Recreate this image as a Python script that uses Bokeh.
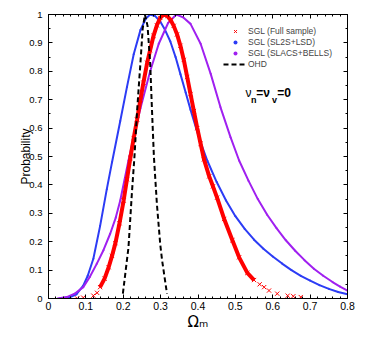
from bokeh.plotting import figure
from bokeh.models import (Legend, LegendItem, LinearAxis, Label, FixedTicker,
                          Range1d, CustomJSTickFormatter)
from bokeh.embed import file_html
from bokeh.resources import INLINE

# ---- data ----
full_x = [0.077, 0.093, 0.120, 0.130, 0.138, 0.150, 0.161, 0.170, 0.179, 0.190, 0.201,
          0.210, 0.219, 0.228, 0.237, 0.246, 0.254, 0.264, 0.272, 0.281, 0.290, 0.299,
          0.308, 0.318, 0.327, 0.335, 0.344, 0.353, 0.362, 0.371, 0.380, 0.389, 0.398,
          0.407, 0.416, 0.430, 0.440, 0.451, 0.470, 0.492, 0.510, 0.532, 0.550, 0.565,
          0.577, 0.590, 0.612, 0.640, 0.655, 0.675]
full_y = [0.000, 0.003, 0.010, 0.020, 0.040, 0.070, 0.110, 0.150, 0.195, 0.265, 0.345,
          0.420, 0.495, 0.565, 0.630, 0.700, 0.760, 0.830, 0.875, 0.925, 0.962, 0.988,
          1.000, 0.995, 0.980, 0.960, 0.930, 0.890, 0.840, 0.780, 0.720, 0.660, 0.600,
          0.545, 0.490, 0.430, 0.395, 0.355, 0.280, 0.205, 0.145, 0.090, 0.065, 0.050,
          0.040, 0.028, 0.017, 0.010, 0.008, 0.005]

sl2s_x = [0.030, 0.058, 0.075, 0.093, 0.105, 0.120, 0.138, 0.156, 0.170, 0.192, 0.210,
          0.228, 0.246, 0.260, 0.272, 0.285, 0.299, 0.312, 0.326, 0.340, 0.353, 0.367,
          0.380, 0.395, 0.407, 0.425, 0.450, 0.475, 0.500, 0.525, 0.550, 0.575, 0.600,
          0.625, 0.650, 0.675, 0.700, 0.725, 0.750, 0.775, 0.800]
sl2s_y = [0.000, 0.005, 0.015, 0.045, 0.080, 0.140, 0.255, 0.385, 0.480, 0.625, 0.745,
          0.860, 0.945, 0.985, 1.000, 0.995, 0.975, 0.945, 0.905, 0.850, 0.790, 0.725,
          0.665, 0.600, 0.550, 0.485, 0.410, 0.345, 0.290, 0.245, 0.207, 0.175, 0.148,
          0.123, 0.100, 0.080, 0.063, 0.047, 0.034, 0.023, 0.015]

slacs_x = [0.025, 0.049, 0.070, 0.093, 0.110, 0.129, 0.147, 0.165, 0.180, 0.192, 0.214,
           0.230, 0.246, 0.272, 0.295, 0.320, 0.342, 0.360, 0.380, 0.407, 0.434, 0.460,
           0.487, 0.510, 0.535, 0.560, 0.585, 0.610, 0.635, 0.660, 0.685, 0.710, 0.735,
           0.760, 0.780, 0.800]
slacs_y = [0.000, 0.005, 0.017, 0.040, 0.075, 0.122, 0.170, 0.228, 0.285, 0.345, 0.486,
           0.580, 0.670, 0.800, 0.897, 0.970, 1.000, 0.990, 0.967, 0.897, 0.791, 0.674,
           0.568, 0.486, 0.415, 0.350, 0.295, 0.248, 0.205, 0.168, 0.135, 0.105, 0.080,
           0.058, 0.042, 0.028]

ohd_x = [0.199, 0.214, 0.223, 0.230, 0.237, 0.246, 0.252, 0.258, 0.265, 0.272, 0.277,
         0.282, 0.290, 0.299, 0.304, 0.317]
ohd_y = [0.017, 0.180, 0.369, 0.500, 0.660, 0.830, 0.950, 1.000, 0.960, 0.830, 0.660,
         0.500, 0.333, 0.190, 0.134, 0.017]

x_ticks = [0, 0.1, 0.2, 0.3, 0.4, 0.5, 0.6, 0.7, 0.8]
y_ticks = [0, 0.1, 0.2, 0.3, 0.4, 0.5, 0.6, 0.7, 0.8, 0.9, 1.0]
x_minor = [i * 0.02 for i in range(41)]
y_minor = [i * 0.05 for i in range(21)]

RED = "#ff0000"
BLUE = "#2c3cf5"
PURPLE = "#a020f0"
FONT = "Liberation Sans"

p = figure(width=372, height=338, output_backend="svg", toolbar_location=None,
           x_range=Range1d(0, 0.8), y_range=Range1d(0, 1),
           min_border_left=48, min_border_right=25, min_border_top=14, min_border_bottom=40,
           x_axis_location=None, y_axis_location=None)
p.grid.visible = False
p.outline_line_color = "#000000"
p.outline_line_width = 1
p.background_fill_color = "white"
p.border_fill_color = "white"


def style_axis(ax, ticks, minor, labels=True):
    ax.ticker = FixedTicker(ticks=ticks, minor_ticks=minor)
    ax.major_tick_in = 4
    ax.major_tick_out = 0
    ax.minor_tick_in = 2
    ax.minor_tick_out = 0
    ax.axis_line_color = "#000000"
    ax.major_tick_line_color = "#000000"
    ax.minor_tick_line_color = "#000000"
    if labels:
        ax.major_label_text_font = FONT
        ax.major_label_text_font_size = "10.5px"
        ax.major_label_text_color = "#000000"
        ax.major_label_overrides = {0: "0", 1: "1"}
        ax.axis_label_text_font = "DejaVu Sans"
        ax.axis_label_text_font_style = "normal"
        ax.axis_label_text_color = "#000000"
    else:
        ax.formatter = CustomJSTickFormatter(code="return ''")
        ax.major_label_standoff = 0


xb = LinearAxis(axis_label="Ωₘ")
style_axis(xb, x_ticks, x_minor)
xb.major_label_standoff = 3
xb.axis_label_standoff = 0
xb.axis_label_text_font_size = "15px"
p.add_layout(xb, "below")

yl = LinearAxis(axis_label="Probability")
style_axis(yl, y_ticks, y_minor)
yl.major_label_text_font_size = "9.5px"
yl.major_label_standoff = 6
yl.axis_label_standoff = -7
yl.axis_label_text_font = FONT
yl.axis_label_text_font_size = "12px"
p.add_layout(yl, "left")

xt = LinearAxis()
style_axis(xt, x_ticks, x_minor, labels=False)
p.add_layout(xt, "above")
yr = LinearAxis()
style_axis(yr, y_ticks, y_minor, labels=False)
p.add_layout(yr, "right")

# curves
p.line(sl2s_x, sl2s_y, line_color=BLUE, line_width=2)
r_blue = p.scatter(sl2s_x, sl2s_y, marker="circle", size=2, fill_color=BLUE, line_alpha=0)
p.line(slacs_x, slacs_y, line_color=PURPLE, line_width=2)
r_purple = p.scatter(slacs_x, slacs_y, marker="circle", size=2, fill_color=PURPLE, line_alpha=0)
p.line(full_x[4:43], full_y[4:43], line_color=RED, line_width=4)
r_red = p.scatter(full_x, full_y, marker="x", size=6, line_color=RED, line_width=1)
r_ohd = p.line(ohd_x, ohd_y, line_color="#000000", line_width=2, line_dash="5 3")

legend = Legend(items=[
    LegendItem(label="SGL (Full sample)", renderers=[r_red]),
    LegendItem(label="SGL (SL2S+LSD)", renderers=[r_blue]),
    LegendItem(label="SGL (SLACS+BELLS)", renderers=[r_purple]),
    LegendItem(label="OHD", renderers=[r_ohd]),
], location=(175, 229))
legend.padding = 0
legend.margin = 0
legend.spacing = 1
legend.glyph_width = 24
legend.glyph_height = 10
legend.label_height = 10
legend.label_standoff = 1
legend.label_text_font = FONT
legend.label_text_font_size = "8.5px"
legend.border_line_alpha = 0
legend.background_fill_alpha = 0
p.add_layout(legend)

tk = dict(text_font=FONT, text_color="#000000", text_baseline="alphabetic", text_align="left")
# annotation nu_n = nu_v = 0
p.add_layout(Label(x=0.527, y=0.725, text="ν", text_font_size="12px", **tk))
p.add_layout(Label(x=0.542, y=0.700, text="n", text_font_size="9px", text_font_style="bold", **tk))
p.add_layout(Label(x=0.556, y=0.725, text="=ν", text_font_size="12px", text_font_style="bold", **tk))
p.add_layout(Label(x=0.598, y=0.700, text="v", text_font_size="9px", text_font_style="bold", **tk))
p.add_layout(Label(x=0.612, y=0.725, text="=0", text_font_size="12px", text_font_style="bold", **tk))

open("out.html", "w").write(file_html(p, INLINE))
